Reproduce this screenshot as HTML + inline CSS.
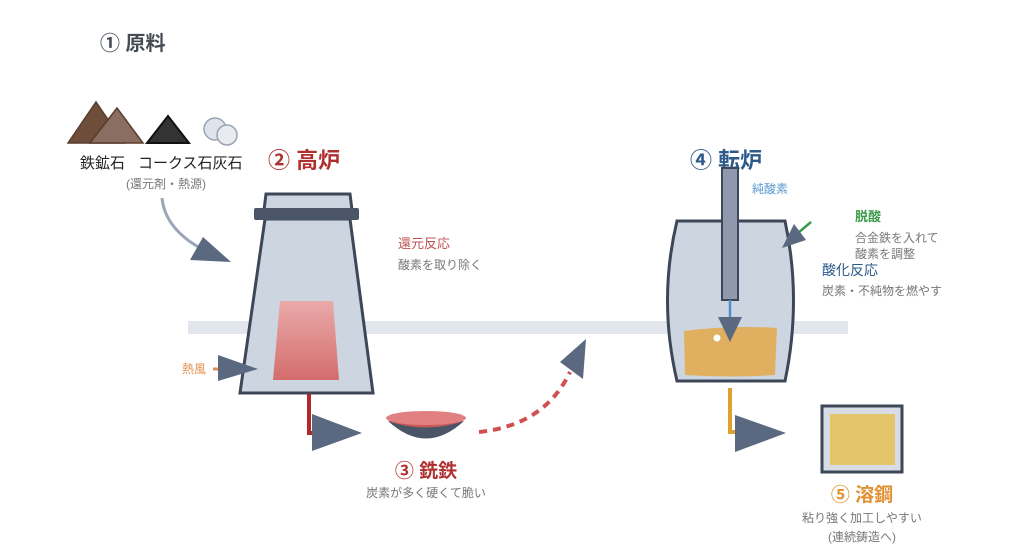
<!DOCTYPE html>
<html><head><meta charset="utf-8"><style>
html,body{margin:0;padding:0;background:#fff;}
svg{display:block;font-family:"Liberation Sans","Noto Sans CJK JP",sans-serif;}
</style></head><body>
<svg width="1024" height="553" viewBox="0 0 1024 553" xmlns="http://www.w3.org/2000/svg">
<defs>
<linearGradient id="rg" x1="0" y1="0" x2="0" y2="1"><stop offset="0" stop-color="#eaaaaa"/><stop offset="1" stop-color="#d46c6c"/></linearGradient>
</defs>
<rect x="188" y="321" width="660" height="13" fill="#e2e7ee"/>
<text x="100" y="50" font-size="20" font-weight="bold" fill="#454b55">① 原料</text>
<polygon points="68,143 96,102 124,143" fill="#6e4e3a" stroke="#5a3d2c" stroke-width="1.5"/>
<polygon points="90,143 117,108 143,143" fill="#8a6e62" stroke="#5a3d2c" stroke-width="1.5"/>
<polygon points="147,143 168,116 189,143" fill="#333" stroke="#111" stroke-width="2"/>
<circle cx="215" cy="129" r="11" fill="#dfe4ec" stroke="#9aa3b2" stroke-width="1.5"/>
<circle cx="227" cy="135" r="10" fill="#e8ecf2" stroke="#9aa3b2" stroke-width="1.5"/>
<text x="80" y="168" font-size="15" fill="#222">鉄鉱石</text>
<text x="138" y="168" font-size="15" fill="#222">コークス石灰石</text>
<text x="166" y="188" font-size="12" fill="#777" text-anchor="middle">(還元剤・熱源)</text>
<path d="M162,198 Q165,228 200,248" fill="none" stroke="#9aa6b8" stroke-width="3"/>
<polygon points="190,260 203,237 231,262" fill="#5a6880"/>
<text x="268" y="168" font-size="22" font-weight="bold" fill="#b03030">② 高炉</text>
<polygon points="266,194 350,194 352,210 264,210" fill="#cdd5e0" stroke="#3d4758" stroke-width="3"/>
<polygon points="265,219 350,219 373,393 240,393" fill="#cdd5e0" stroke="#3d4758" stroke-width="3"/>
<rect x="254" y="208" width="105" height="12" rx="2" fill="#4a5568"/>
<polygon points="280,301 333,301 339,380 273,380" fill="url(#rg)"/>
<text x="398" y="248" font-size="13" fill="#c05050">還元反応</text>
<text x="398" y="269" font-size="12" fill="#777">酸素を取り除く</text>
<text x="182" y="373" font-size="12" fill="#e09050">熱風</text>
<line x1="213" y1="369" x2="222" y2="369" stroke="#e09050" stroke-width="3"/>
<polygon points="218,355 218,381 258,369" fill="#5a6880"/>
<path d="M309,394 V433 H322" fill="none" stroke="#b02828" stroke-width="4"/>
<polygon points="312,414 312,451 362,433" fill="#5a6880"/>
<path d="M388,421 Q426,456 464,421 Z" fill="#4a5568"/>
<path d="M388,421 Q426,434 464,421 Z" fill="#c85a5a"/>
<ellipse cx="426" cy="418" rx="40" ry="7" fill="#e08080"/>
<text x="426" y="477" font-size="19" font-weight="bold" fill="#b03030" text-anchor="middle">③ 銑鉄</text>
<text x="426" y="497" font-size="12" fill="#777" text-anchor="middle">炭素が多く硬くて脆い</text>
<path d="M479,432 Q545,425 570,372" fill="none" stroke="#d05050" stroke-width="4" stroke-dasharray="8,6"/>
<polygon points="560,362 586,339 583,379" fill="#5a6880"/>
<text x="690" y="168" font-size="22" font-weight="bold" fill="#2c5a8a">④ 転炉</text>
<path d="M677,221 L785,221 Q802,300 785,381 L677,381 Q658,300 677,221 Z" fill="#cdd5e0" stroke="#3d4758" stroke-width="3"/>
<path d="M684,331 Q730,325 777,328 L775,375 Q730,378 685,375 Z" fill="#e0b060"/>
<rect x="722" y="168" width="16" height="132" fill="#8e99ad" stroke="#3d4758" stroke-width="2"/>
<line x1="730" y1="300" x2="730" y2="320" stroke="#4a90d0" stroke-width="2.5"/>
<polygon points="718,317 742,317 730,342" fill="#5a6880"/>
<circle cx="717" cy="338" r="3.5" fill="#fff"/>
<text x="752" y="193" font-size="12" fill="#5a9ad0">純酸素</text>
<line x1="811" y1="222" x2="798" y2="233" stroke="#3a9a4a" stroke-width="2.5"/>
<polygon points="782,248 794,224 806,240" fill="#5a6880"/>
<text x="855" y="221" font-size="13" font-weight="bold" fill="#3a9a4a">脱酸</text>
<text x="855" y="242" font-size="12" fill="#777">合金鉄を入れて</text>
<text x="855" y="258" font-size="12" fill="#777">酸素を調整</text>
<text x="822" y="275" font-size="14" fill="#2c5a8a">酸化反応</text>
<text x="822" y="295" font-size="12" fill="#777">炭素・不純物を燃やす</text>
<path d="M730,388 V432 H740" fill="none" stroke="#e0a030" stroke-width="4"/>
<polygon points="735,415 735,452 786,433" fill="#5a6880"/>
<rect x="822" y="406" width="80" height="66" fill="#d8dde5" stroke="#3d4758" stroke-width="3"/>
<rect x="830" y="414" width="65" height="51" fill="#e3c56a"/>
<text x="862" y="501" font-size="19" font-weight="bold" fill="#e09030" text-anchor="middle">⑤ 溶鋼</text>
<text x="862" y="522" font-size="12" fill="#777" text-anchor="middle">粘り強く加工しやすい</text>
<text x="862" y="541" font-size="12" fill="#777" text-anchor="middle">(連続鋳造へ)</text>
</svg>
</body></html>
